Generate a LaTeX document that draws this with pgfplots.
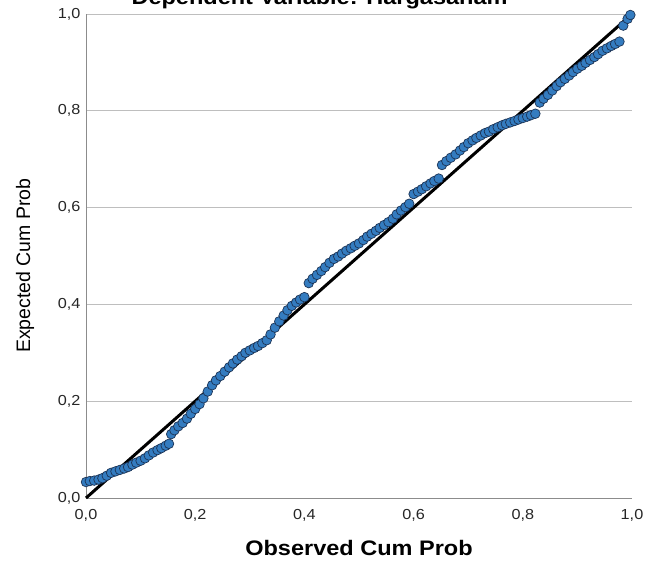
\documentclass[border=0pt]{standalone}
\usepackage{pgfplots}
\pgfplotsset{compat=1.18}
\usepackage{fontspec}
\setmainfont{Liberation Sans}
\newfontfamily\widefont[FakeStretch=1.12]{Liberation Sans}

\definecolor{ptfill}{RGB}{52,124,192}
\definecolor{ptedge}{RGB}{28,52,86}
\definecolor{gridc}{RGB}{190,190,190}
\definecolor{axisc}{RGB}{140,140,140}

\pgfplotstableread{
x y
0.000 0.033
0.007 0.035
0.015 0.036
0.023 0.038
0.030 0.041
0.038 0.046
0.046 0.052
0.054 0.055
0.062 0.058
0.070 0.061
0.077 0.064
0.085 0.069
0.092 0.073
0.100 0.077
0.108 0.082
0.115 0.088
0.123 0.094
0.131 0.099
0.138 0.103
0.146 0.108
0.152 0.112
0.156 0.132
0.162 0.140
0.169 0.148
0.177 0.155
0.185 0.164
0.192 0.174
0.200 0.184
0.208 0.194
0.215 0.206
0.223 0.220
0.231 0.233
0.238 0.243
0.246 0.252
0.254 0.261
0.262 0.270
0.269 0.278
0.277 0.286
0.285 0.293
0.292 0.300
0.300 0.305
0.308 0.310
0.315 0.314
0.323 0.320
0.331 0.326
0.338 0.338
0.346 0.352
0.354 0.365
0.362 0.377
0.369 0.388
0.377 0.397
0.385 0.404
0.392 0.410
0.400 0.415
0.408 0.444
0.415 0.453
0.423 0.461
0.431 0.469
0.438 0.477
0.446 0.486
0.454 0.494
0.462 0.499
0.469 0.505
0.477 0.511
0.485 0.516
0.492 0.521
0.500 0.526
0.508 0.533
0.515 0.540
0.523 0.546
0.531 0.552
0.538 0.558
0.546 0.564
0.554 0.570
0.562 0.577
0.569 0.586
0.577 0.594
0.585 0.601
0.592 0.608
0.600 0.628
0.608 0.633
0.615 0.638
0.623 0.644
0.631 0.650
0.638 0.655
0.646 0.660
0.652 0.688
0.660 0.696
0.668 0.703
0.677 0.710
0.685 0.718
0.692 0.725
0.700 0.733
0.708 0.739
0.715 0.744
0.723 0.749
0.731 0.754
0.738 0.757
0.746 0.762
0.754 0.766
0.762 0.770
0.769 0.773
0.777 0.776
0.785 0.779
0.792 0.782
0.800 0.785
0.808 0.788
0.815 0.791
0.823 0.794
0.831 0.817
0.838 0.825
0.846 0.833
0.854 0.842
0.862 0.851
0.869 0.859
0.877 0.866
0.885 0.873
0.892 0.880
0.900 0.887
0.908 0.893
0.915 0.899
0.923 0.905
0.931 0.911
0.938 0.917
0.946 0.924
0.954 0.929
0.962 0.934
0.969 0.938
0.977 0.943
0.984 0.976
0.992 0.990
0.997 0.998
}\ppdata

\begin{document}
\begin{tikzpicture}
\begin{axis}[
  scale only axis,
  width=546pt, height=484pt,
  xmin=0, xmax=1, ymin=0, ymax=1,
  xtick={0,0.2,0.4,0.6,0.8,1},
  ytick={0,0.2,0.4,0.6,0.8,1},
  axis x line*=bottom, axis y line*=left,
  axis line style={-, draw=axisc, line width=0.9pt},
  ymajorgrids,
  major grid style={draw=gridc, line width=0.9pt},
  major tick length=0pt,
  clip=false,
  /pgf/number format/assume math mode=true,
  /pgf/number format/fixed,
  /pgf/number format/fixed zerofill,
  /pgf/number format/precision=1,
  /pgf/number format/use comma,
  ticklabel style={font=\widefont\fontsize{14.5}{16}\selectfont, text=black!85},
  xticklabel style={yshift=-8pt},
  yticklabel style={xshift=-2pt},
  xlabel={\widefont\bfseries Observed Cum Prob},
  ylabel={Expected Cum Prob},
  xlabel style={at={(axis description cs:0.5,0)}, anchor=base, yshift=-57pt,
    font=\fontsize{21}{24}\selectfont},
  ylabel style={at={(axis description cs:0,0.48)}, anchor=center,
    yshift=61pt, font=\fontsize{19.5}{22}\selectfont},
]
\addplot[only marks, mark=*, mark size=4.8pt,
  mark options={fill=ptfill, draw=ptedge, line width=0.7pt}] table[x=x, y=y] {\ppdata};
\addplot[black, line width=3pt] coordinates {(0,0) (1,1)};
\end{axis}
\node[anchor=base west, font=\widefont\fontsize{21}{24}\selectfont\bfseries]
  at (42pt,493pt) {Dependent Variable: Hargasaham};
\pgfresetboundingbox
\path[use as bounding box] (-86pt,-68pt) rectangle (561pt,498pt);
\end{tikzpicture}
\end{document}
